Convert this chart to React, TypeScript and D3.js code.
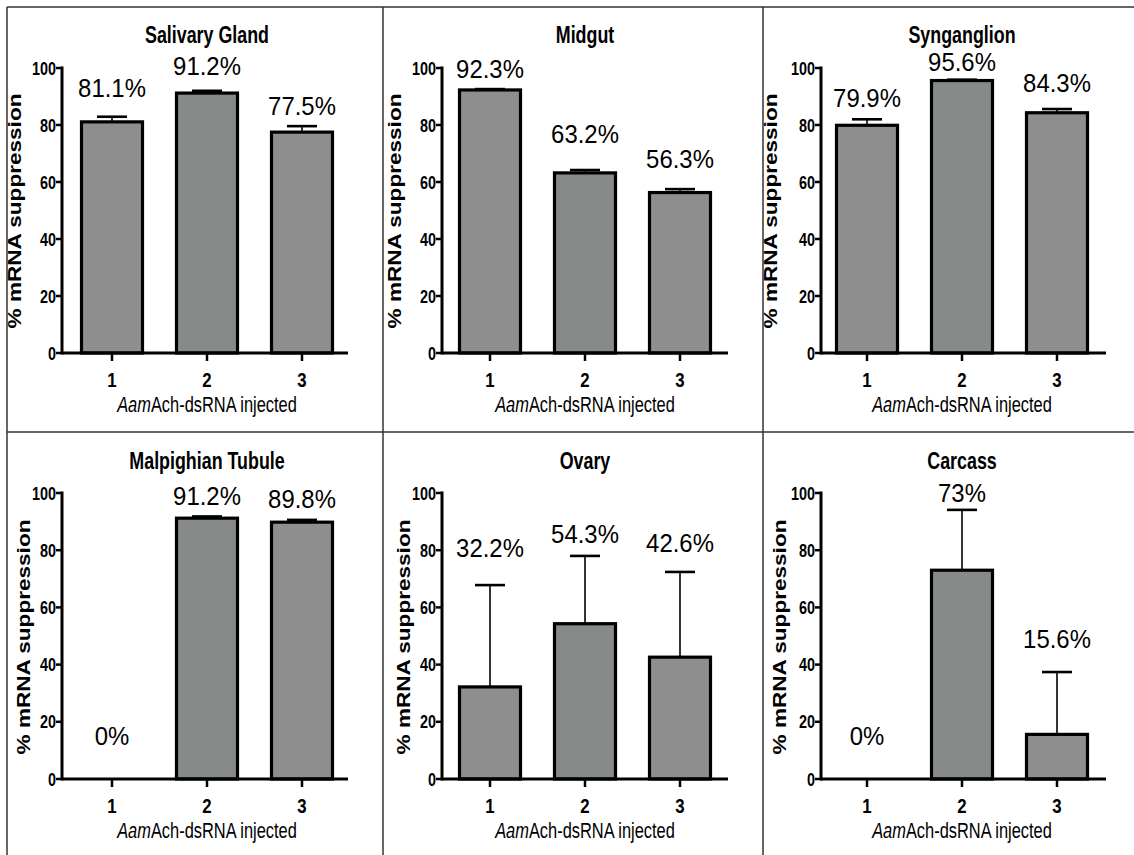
import React from "react";
import * as d3 from "d3";

// ---------- data ----------
const panelTitles = ["Salivary Gland", "Midgut", "Synganglion", "Malpighian Tubule", "Ovary", "Carcass"];
const categories = ["1", "2", "3"];
const yTicks = [0, 20, 40, 60, 80, 100];

const salivaryGland = [81.1, 91.2, 77.5];
const midgut = [92.3, 63.2, 56.3];
const synganglion = [79.9, 95.6, 84.3];
const malpighianTubule = [0, 91.2, 89.8];
const ovary = [32.2, 54.3, 42.6];
const carcass = [0, 73, 15.6];

// upper error (SEM)
const salivaryGlandErr = [1.8, 0.8, 2.1];
const midgutErr = [0.3, 1.0, 1.2];
const synganglionErr = [2.1, 0.3, 1.3];
const malpighianTubuleErr = [0, 0.6, 0.8];
const ovaryErr = [35.6, 23.7, 29.8];
const carcassErr = [0, 21.1, 21.8];

// printed labels
const salivaryGlandLabels = ["81.1%", "91.2%", "77.5%"];
const midgutLabels = ["92.3%", "63.2%", "56.3%"];
const synganglionLabels = ["79.9%", "95.6%", "84.3%"];
const malpighianTubuleLabels = ["0%", "91.2%", "89.8%"];
const ovaryLabels = ["32.2%", "54.3%", "42.6%"];
const carcassLabels = ["0%", "73%", "15.6%"];

// label anchor (baseline) in data units
const salivaryGlandLabelAt = [90, 97.5, 83.5];
const midgutLabelAt = [96.5, 73.7, 64.9];
const synganglionLabelAt = [86.3, 99.0, 91.6];
const malpighianTubuleLabelAt = [11.9, 95.8, 94.8];
const ovaryLabelAt = [77.6, 82.5, 79.4];
const carcassLabelAt = [11.9, 96.9, 45.8];

const xAxisTitle = "Ach-dsRNA injected";
const xAxisTitleItalic = "Aam";
const yAxisTitle = "% mRNA suppression";

const panelValues = [salivaryGland, midgut, synganglion, malpighianTubule, ovary, carcass];
const panelErrs = [salivaryGlandErr, midgutErr, synganglionErr, malpighianTubuleErr, ovaryErr, carcassErr];
const panelLabels = [salivaryGlandLabels, midgutLabels, synganglionLabels, malpighianTubuleLabels, ovaryLabels, carcassLabels];
const panelLabelAt = [salivaryGlandLabelAt, midgutLabelAt, synganglionLabelAt, malpighianTubuleLabelAt, ovaryLabelAt, carcassLabelAt];

// ---------- layout ----------
const W = 1134;
const H = 855;
const FONT = "'Liberation Sans', Arial, Helvetica, sans-serif";
const colLayout = [
  { axisX: 62, tick1: 112, tick3: 302, xEnd: 348, yLabX: 21 },
  { axisX: 442, tick1: 490, tick3: 680, xEnd: 728, yLabX: 401 },
  { axisX: 821, tick1: 867, tick3: 1057, xEnd: 1106, yLabX: 777 },
];
const rowLayout = [
  { y0: 353, y100: 68, titleY: 43, tickLabY: 387, xLabY: 412, yLabYc: 211, yLabDx: 0 },
  { y0: 779, y100: 493, titleY: 469, tickLabY: 813, xLabY: 838, yLabYc: 637, yLabDx: 9 },
];
const BAR_W = 61;
const CAP_HALF = 15;
const barFill = ["#8e8e8e", "#868a89", "#8e8e8e"];

function Txt(props: any) {
  const { x, y, sx = 1, anchor = "middle", size, weight = "normal", children, rotate = 0 } = props;
  const t = `translate(${x},${y})` + (rotate ? ` rotate(${rotate})` : "") + ` scale(${sx},1)`;
  return (
    <text transform={t} textAnchor={anchor} fontFamily={FONT} fontSize={size} fontWeight={weight} fill="#000">
      {children}
    </text>
  );
}

function Panel({ idx }: { idx: number }) {
  const c = colLayout[idx % 3];
  const r = rowLayout[Math.floor(idx / 3)];
  const values = panelValues[idx];
  const errs = panelErrs[idx];
  const labels = panelLabels[idx];
  const labelAt = panelLabelAt[idx];

  const y = d3.scaleLinear().domain([0, 100]).range([r.y0, r.y100]);
  const x = d3.scalePoint<string>().domain(categories).range([c.tick1, c.tick3]);
  const titleX = x(categories[1]) as number;

  return (
    <g>
      <Txt x={titleX} y={r.titleY} size={23.5} weight="bold" sx={0.76}>
        {panelTitles[idx]}
      </Txt>

      {/* bars */}
      {categories.map((cat, i) => {
        const cx = x(cat) as number;
        const v = values[i];
        if (v <= 0) return null;
        const top = y(v);
        return (
          <rect key={"b" + i} x={cx - BAR_W / 2} y={top} width={BAR_W} height={r.y0 - top}
            fill={barFill[i]} stroke="#000" strokeWidth={3.2} />
        );
      })}

      {/* error bars */}
      {categories.map((cat, i) => {
        const cx = x(cat) as number;
        const v = values[i];
        const e = errs[i];
        if (v <= 0 || e <= 0) return null;
        const top = y(v + e);
        return (
          <g key={"e" + i}>
            <line x1={cx} x2={cx} y1={y(v)} y2={top} stroke="#000" strokeWidth={1.6} />
            <line x1={cx - CAP_HALF} x2={cx + CAP_HALF} y1={top} y2={top} stroke="#000" strokeWidth={2.6} />
          </g>
        );
      })}

      {/* value labels */}
      {categories.map((cat, i) => (
        <Txt key={"l" + i} x={x(cat) as number} y={y(labelAt[i])} size={26} sx={0.92}>
          {labels[i]}
        </Txt>
      ))}

      {/* y axis */}
      <line x1={c.axisX} x2={c.axisX} y1={y(100) - 1.5} y2={r.y0 + 1.5} stroke="#000" strokeWidth={3} />
      {yTicks.map((t) => (
        <g key={"yt" + t}>
          <line x1={c.axisX - 6} x2={c.axisX} y1={y(t)} y2={y(t)} stroke="#000" strokeWidth={2.5} />
          <Txt x={c.axisX - 6} y={y(t) + 6.5} size={18} weight="bold" sx={0.8} anchor="end">
            {t}
          </Txt>
        </g>
      ))}

      {/* x axis */}
      <line x1={c.axisX} x2={c.xEnd} y1={r.y0} y2={r.y0} stroke="#000" strokeWidth={3} />
      {categories.map((cat) => (
        <g key={"xt" + cat}>
          <line x1={x(cat) as number} x2={x(cat) as number} y1={r.y0} y2={r.y0 + 8} stroke="#000" strokeWidth={2.5} />
          <Txt x={x(cat) as number} y={r.tickLabY} size={21} weight="bold" sx={0.8}>
            {cat}
          </Txt>
        </g>
      ))}

      {/* x axis title */}
      <Txt x={titleX} y={r.xLabY} size={22.5} sx={0.73}>
        <tspan fontStyle="italic">{xAxisTitleItalic}</tspan>
        {xAxisTitle}
      </Txt>

      {/* y axis title */}
      <Txt x={c.yLabX + r.yLabDx} y={r.yLabYc} size={17.5} weight="bold" sx={1.29} rotate={-90}>
        {yAxisTitle}
      </Txt>
    </g>
  );
}

export default function App() {
  const gridStroke = "#333";
  return (
    <svg width={W} height={H} style={{ position: "absolute", left: 0, top: 0, background: "#fff" }}>
      <rect x={0} y={0} width={W} height={H} fill="#fff" />
      {/* frame lines */}
      <line x1={7} x2={W} y1={7} y2={7} stroke={gridStroke} strokeWidth={1.5} />
      <line x1={7} x2={W} y1={432} y2={432} stroke={gridStroke} strokeWidth={1.5} />
      <line x1={7} x2={7} y1={7} y2={H} stroke={gridStroke} strokeWidth={1.5} />
      <line x1={383} x2={383} y1={7} y2={H} stroke={gridStroke} strokeWidth={1.5} />
      <line x1={763} x2={763} y1={7} y2={H} stroke={gridStroke} strokeWidth={1.5} />
      {panelTitles.map((_, i) => (
        <Panel key={i} idx={i} />
      ))}
    </svg>
  );
}
